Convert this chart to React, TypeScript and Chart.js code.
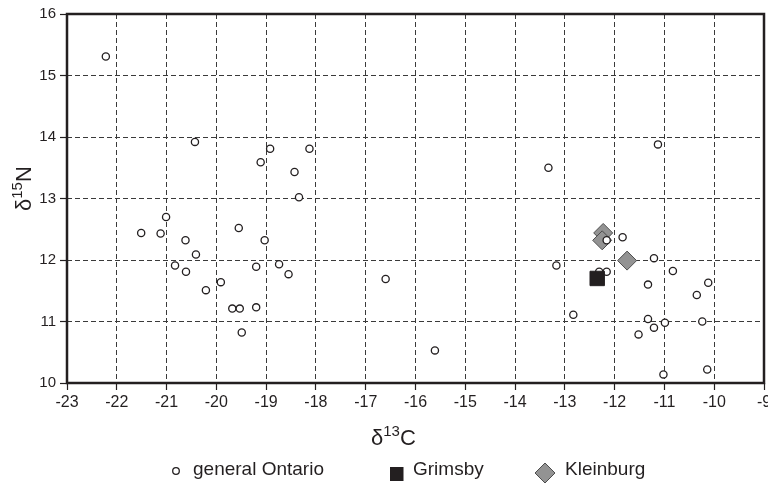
import React, { useEffect, useRef } from "react";
import { Chart, registerables } from "chart.js";

Chart.register(...registerables);

// general Ontario: [δ13C, δ15N]
const ontarioX = [
  -22.22, -20.43, -18.92, -19.11, -18.13, -18.43, -18.34,
  -21.01, -21.51, -21.12, -20.62, -20.41, -20.83, -20.61, -20.21, -19.91,
  -19.55, -19.03, -19.20, -18.74, -18.55, -19.68, -19.53, -19.20, -19.49, -16.60,
  -11.13, -13.33, -11.84, -12.16, -13.17, -12.31, -12.16, -11.21, -10.83, -11.33,
  -10.12, -10.35, -12.83, -11.33, -10.99, -11.21, -11.52, -10.24, -15.61, -11.02, -10.14,
];
const ontarioY = [
  15.31, 13.92, 13.81, 13.59, 13.81, 13.43, 13.02,
  12.70, 12.44, 12.43, 12.32, 12.09, 11.91, 11.81, 11.51, 11.64,
  12.52, 12.32, 11.89, 11.93, 11.77, 11.21, 11.21, 11.23, 10.82, 11.69,
  13.88, 13.50, 12.37, 12.32, 11.91, 11.81, 11.81, 12.03, 11.82, 11.60,
  11.63, 11.43, 11.11, 11.04, 10.98, 10.90, 10.79, 11.00, 10.53, 10.14, 10.22,
];
const grimsbyX = [-12.35];
const grimsbyY = [11.70];
const kleinburgX = [-12.23, -12.25, -11.75];
const kleinburgY = [12.44, 12.32, 11.99];

const seriesLabels = ["general Ontario", "Grimsby", "Kleinburg"];
const xMin = -23, xMax = -9, yMin = 10, yMax = 16;

const FONT = "'Liberation Sans', Arial, Helvetica, sans-serif";
const INK = "#231f20";

const toPts = (xs: number[], ys: number[]) => xs.map((x, i) => ({ x, y: ys[i] }));

function drawSup(ctx: CanvasRenderingContext2D, parts: [string, string, string], x0: number, cy: number, big: number, small: number) {
  let x = x0;
  ctx.textBaseline = "alphabetic";
  ctx.textAlign = "left";
  ctx.fillStyle = INK;
  ctx.font = `${big}px ${FONT}`;
  ctx.fillText(parts[0], x, cy);
  x += ctx.measureText(parts[0]).width;
  ctx.font = `${small}px ${FONT}`;
  ctx.fillText(parts[1], x, cy - big * 0.4);
  x += ctx.measureText(parts[1]).width;
  ctx.font = `${big}px ${FONT}`;
  ctx.fillText(parts[2], x, cy);
}

const framePlugin = {
  id: "frame",
  beforeDatasetsDraw(chart: any) {
    const { ctx, chartArea: a } = chart;
    ctx.save();
    ctx.strokeStyle = INK;
    ctx.lineWidth = 2.5;
    ctx.strokeRect(a.left, a.top, a.right - a.left, a.bottom - a.top);
    ctx.restore();
  },
  afterDraw(chart: any) {
    const { ctx } = chart;
    ctx.save();
    // x title
    drawSup(ctx, ["δ", "13", "C"], 371, 445, 22, 15);
    // y title
    ctx.save();
    ctx.translate(31, 211);
    ctx.rotate(-Math.PI / 2);
    drawSup(ctx, ["δ", "15", "N"], 0, 0, 22, 15);
    ctx.restore();
    // legend
    const ly = 470;
    ctx.font = `19px ${FONT}`;
    ctx.textBaseline = "middle";
    ctx.textAlign = "left";
    const ds = chart.data.datasets;
    // circle
    ctx.beginPath();
    ctx.arc(176, ly + 1, 3.3, 0, Math.PI * 2);
    ctx.fillStyle = "#ffffff";
    ctx.fill();
    ctx.lineWidth = 1.3;
    ctx.strokeStyle = INK;
    ctx.stroke();
    ctx.fillStyle = INK;
    ctx.fillText(ds[0].label, 193, ly);
    // square
    ctx.fillStyle = ds[1].backgroundColor;
    ctx.fillRect(390, ly - 3, 13.5, 14);
    ctx.fillStyle = INK;
    ctx.fillText(ds[1].label, 413, ly);
    // diamond
    ctx.beginPath();
    ctx.moveTo(545, ly - 7);
    ctx.lineTo(555, ly + 3);
    ctx.lineTo(545, ly + 13);
    ctx.lineTo(535, ly + 3);
    ctx.closePath();
    ctx.fillStyle = ds[2].backgroundColor;
    ctx.fill();
    ctx.strokeStyle = ds[2].borderColor;
    ctx.lineWidth = 1;
    ctx.stroke();
    ctx.fillStyle = INK;
    ctx.fillText(ds[2].label, 565, ly);
    ctx.restore();
  },
};

const noPad = (s: any) => {
  s._calculatePadding = function () {
    this.paddingLeft = 0;
    this.paddingRight = 0;
    this.paddingTop = 0;
    this.paddingBottom = 0;
  };
  s.getPadding = () => ({ left: 0, top: 0, right: 0, bottom: 0 });
};

export default function App() {
  const ref = useRef<HTMLCanvasElement>(null);
  useEffect(() => {
    document.body.style.margin = "0";
    const gridCommon = {
      color: "#3a3a3a",
      lineWidth: 1,
      tickColor: INK,
      tickLength: 7,
      tickWidth: 1.2,
    };
    const chart = new Chart(ref.current as HTMLCanvasElement, {
      type: "scatter",
      data: {
        datasets: [
          {
            label: seriesLabels[0],
            data: toPts(ontarioX, ontarioY),
            pointStyle: "circle",
            pointRadius: 3.6,
            pointBorderWidth: 1.3,
            backgroundColor: "#ffffff",
            borderColor: INK,
            order: 1,
          },
          {
            label: seriesLabels[1],
            data: toPts(grimsbyX, grimsbyY),
            pointStyle: "rect",
            pointRadius: 10.2,
            pointBorderWidth: 1,
            backgroundColor: "#231f20",
            borderColor: "#231f20",
            order: 0,
          },
          {
            label: seriesLabels[2],
            data: toPts(kleinburgX, kleinburgY),
            pointStyle: "rectRot",
            pointRadius: 9.5,
            pointBorderWidth: 1,
            backgroundColor: "#939393",
            borderColor: "#4d4d4d",
            order: 2,
          },
        ],
      },
      options: {
        animation: false,
        responsive: false,
        layout: { autoPadding: false, padding: { top: 14, right: 4, left: 0, bottom: 0 } },
        plugins: { legend: { display: false }, tooltip: { enabled: false } },
        scales: {
          x: {
            type: "linear",
            min: xMin,
            max: xMax,
            ticks: { stepSize: 1, color: INK, font: { family: FONT, size: 16 }, padding: 3, maxRotation: 0 },
            grid: gridCommon,
            border: { display: false, dash: [5, 3] },
            beforeFit: noPad,
            afterFit: (s: any) => {
              s.height = 100;
              s.paddingLeft = 0;
              s.paddingRight = 0;
            },
          },
          y: {
            type: "linear",
            min: yMin,
            max: yMax,
            ticks: { stepSize: 1, color: INK, font: { family: FONT, size: 15 }, padding: 4 },
            grid: gridCommon,
            border: { display: false, dash: [5, 3] },
            beforeFit: noPad,
            afterFit: (s: any) => {
              s.width = 67;
              s.paddingTop = 0;
              s.paddingBottom = 0;
            },
          },
        },
      },
      plugins: [framePlugin],
    } as any);
    return () => chart.destroy();
  }, []);
  return <canvas ref={ref} width={768} height={483} style={{ display: "block" }} />;
}
